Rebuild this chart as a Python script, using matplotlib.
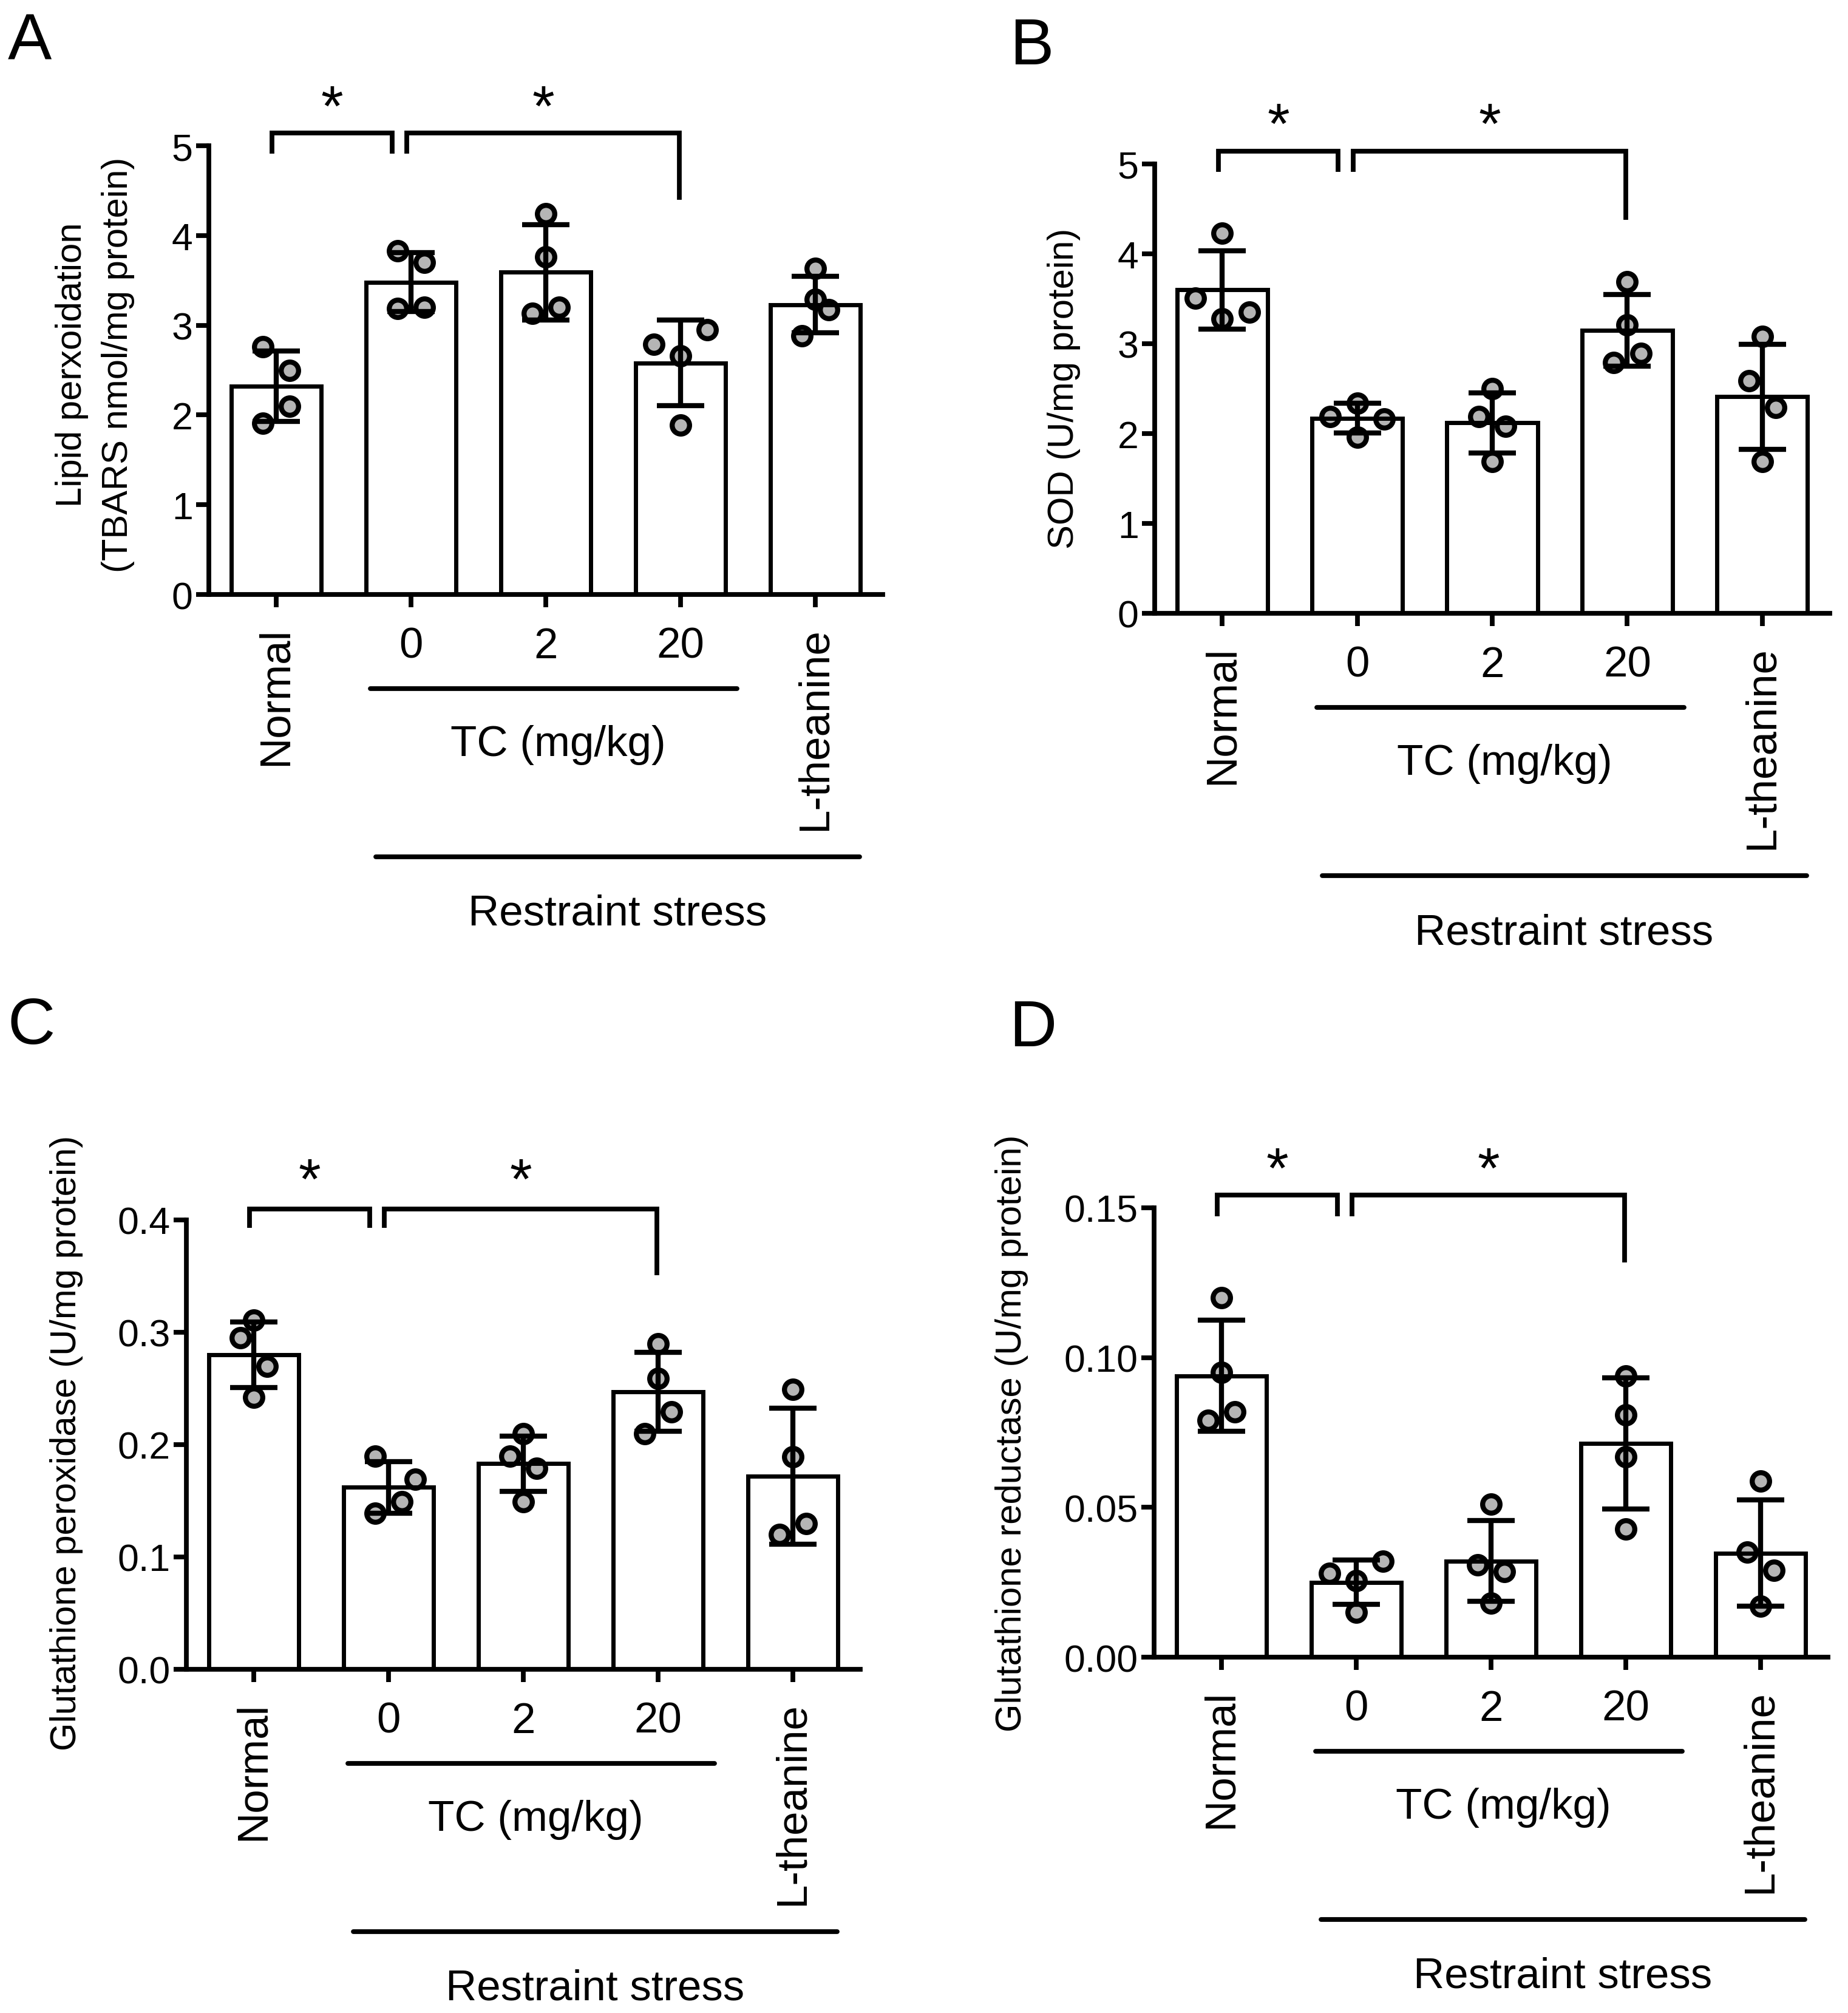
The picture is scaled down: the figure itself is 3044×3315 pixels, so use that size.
import matplotlib
matplotlib.use("Agg")
import matplotlib.pyplot as plt
from matplotlib.transforms import offset_copy

plt.rcParams['font.family'] = ['Liberation Sans', 'DejaVu Sans']

# ---------------- data ----------------
categories = ["Normal", "0", "2", "20", "L-theanine"]

A_means = [2.32, 3.48, 3.59, 2.58, 3.23]
A_sd = [0.39, 0.33, 0.53, 0.475, 0.315]
A_points = [[2.76, 2.50, 2.10, 1.91], [3.83, 3.70, 3.19, 3.20],
            [4.24, 3.76, 3.13, 3.20], [2.79, 2.95, 2.66, 1.89],
            [3.63, 3.29, 3.17, 2.88]]
A_jitter = [[-0.1, 0.1, 0.1, -0.1], [-0.1, 0.1, -0.1, 0.1],
            [0, 0, -0.1, 0.1], [-0.2, 0.2, 0, 0], [0, 0, 0.1, -0.1]]

B_means = [3.60, 2.17, 2.12, 3.15, 2.41]
B_sd = [0.435, 0.165, 0.335, 0.40, 0.585]
B_points = [[4.23, 3.51, 3.28, 3.35], [2.19, 2.34, 2.16, 1.96],
            [2.50, 2.19, 2.08, 1.69], [3.69, 3.21, 2.79, 2.89],
            [3.08, 2.59, 2.29, 1.69]]
B_jitter = [[0, -0.2, 0, 0.2], [-0.2, 0, 0.2, 0],
            [0, -0.1, 0.1, 0], [0, 0, -0.1, 0.1], [0, -0.1, 0.1, 0]]

C_means = [0.280, 0.162, 0.183, 0.247, 0.172]
C_sd = [0.029, 0.023, 0.0245, 0.035, 0.0605]
C_points = [[0.311, 0.295, 0.270, 0.242], [0.190, 0.169, 0.149, 0.139],
            [0.210, 0.190, 0.179, 0.149], [0.290, 0.259, 0.229, 0.210],
            [0.249, 0.189, 0.130, 0.120]]
C_jitter = [[0, -0.1, 0.1, 0], [-0.1, 0.2, 0.1, -0.1],
            [0, -0.1, 0.1, 0], [0, 0, 0.1, -0.1], [0, 0, 0.1, -0.1]]

D_means = [0.0939, 0.0250, 0.0321, 0.0713, 0.0347]
D_sd = [0.0185, 0.0074, 0.01355, 0.02185, 0.01775]
D_points = [[0.120, 0.0951, 0.0790, 0.0818], [0.0279, 0.0321, 0.0256, 0.0149],
            [0.0511, 0.0309, 0.0285, 0.0181], [0.0939, 0.0808, 0.0669, 0.0428],
            [0.0588, 0.0351, 0.0289, 0.0170]]
D_jitter = [[0, 0, -0.1, 0.1], [-0.2, 0.2, 0, 0],
            [0, -0.1, 0.1, 0], [0, 0, 0, 0], [0, -0.1, 0.1, 0]]

A_yticks = [0, 1, 2, 3, 4, 5]
A_yticklabels = ["0", "1", "2", "3", "4", "5"]
B_yticks = [0, 1, 2, 3, 4, 5]
B_yticklabels = ["0", "1", "2", "3", "4", "5"]
C_yticks = [0.0, 0.1, 0.2, 0.3, 0.4]
C_yticklabels = ["0.0", "0.1", "0.2", "0.3", "0.4"]
D_yticks = [0.00, 0.05, 0.10, 0.15]
D_yticklabels = ["0.00", "0.05", "0.10", "0.15"]

A_ylabel = ["Lipid perxoidation", "(TBARS nmol/mg protein)"]
B_ylabel = ["SOD (U/mg protein)"]
C_ylabel = ["Glutathione peroxidase (U/mg protein)"]
D_ylabel = ["Glutathione reductase (U/mg protein)"]

# ---------------- layout ----------------
W, H = 3044, 3316
DPI = 200
fig = plt.figure(figsize=(W / DPI, H / DPI), dpi=DPI)
fig.patch.set_facecolor('white')

def px2pt(p):
    return p * 72.0 / DPI

LW_SPINE = 2.8
LW_BAR = 2.5
LW_ERR = 3.0
LW_BRK = 2.8
FS_YTICK = 22.5
FS_XTICK = 25.5
FS_LABEL = 21.5
FS_STAR = 34
FS_LETTER = 39

panels = [
    # letter, box(left,right,top,bottom px), means, sd, points, jitter, ylim top, yticks, labels, ylabel,
    # ylabel baselines x px, ylabel center y px, bracket (top, legs, right-leg), star y, letter pos
    dict(letter="A", box=(344, 1454, 241, 980), means=A_means, sd=A_sd, pts=A_points, jit=A_jitter,
         ytop=5, yt=A_yticks, ytl=A_yticklabels, ylab=A_ylabel, ylab_x=[134, 210], ylab_y=601,
         brk=(5.14, 4.91, 4.40), star=5.60, let=(13, 99)),
    dict(letter="B", box=(1902, 3014, 271, 1011), means=B_means, sd=B_sd, pts=B_points, jit=B_jitter,
         ytop=5, yt=B_yticks, ytl=B_yticklabels, ylab=B_ylabel, ylab_x=[1768], ylab_y=640,
         brk=(5.14, 4.91, 4.38), star=5.61, let=(1663, 106)),
    dict(letter="C", box=(307, 1417, 2010, 2750), means=C_means, sd=C_sd, pts=C_points, jit=C_jitter,
         ytop=0.4, yt=C_yticks, ytl=C_yticklabels, ylab=C_ylabel, ylab_x=[125], ylab_y=2376,
         brk=(0.410, 0.393, 0.351), star=0.449, let=(12, 1719)),
    dict(letter="D", box=(1901, 3011, 1990, 2730), means=D_means, sd=D_sd, pts=D_points, jit=D_jitter,
         ytop=0.15, yt=D_yticks, ytl=D_yticklabels, ylab=D_ylabel, ylab_x=[1682], ylab_y=2360,
         brk=(0.1542, 0.1472, 0.1317), star=0.168, let=(1662, 1723)),
]

BAR_W = 0.67
BRK1 = (-0.03, 0.86)
BRK2 = (0.97, 2.99)
TC_LINE = (0.70, 3.42)
RS_LINE = (0.74, 4.33)
TC_TEXT_X = 2.09
RS_TEXT_X = 2.53

for p in panels:
    l, r, t, b = p["box"]
    ax = fig.add_axes([l / W, 1 - b / H, (r - l) / W, (b - t) / H])
    x = list(range(len(categories)))
    # bar fill
    ax.bar(x, p["means"], width=BAR_W, color='white', edgecolor='none', zorder=1)
    # points
    for i, (vals, jit) in enumerate(zip(p["pts"], p["jit"])):
        ax.plot([i + j for j in jit], vals, 'o', ms=10.3, mfc='#b5b5b5', mec='black',
                mew=3.0, zorder=2, clip_on=False)
    # bar edges
    ax.bar(x, p["means"], width=BAR_W, color='none', edgecolor='black', linewidth=LW_BAR, zorder=3)
    # error bars
    ax.errorbar(x, p["means"], yerr=p["sd"], fmt='none', ecolor='black', elinewidth=LW_ERR,
                capsize=13.9, capthick=LW_ERR, zorder=4, clip_on=False)

    ax.set_xlim(-0.5, 4.5)
    ax.set_ylim(0, p["ytop"])
    for s in ("top", "right"):
        ax.spines[s].set_visible(False)
    for s in ("left", "bottom"):
        ax.spines[s].set_linewidth(LW_SPINE)
    ax.set_yticks(p["yt"])
    ax.set_yticklabels(p["ytl"])
    ax.set_xticks(x)
    ax.set_xticklabels(categories)
    ax.tick_params(axis='y', direction='out', length=7.5, width=LW_SPINE, labelsize=FS_YTICK, pad=2)
    ax.tick_params(axis='x', direction='out', length=7.5, width=LW_SPINE, labelsize=FS_XTICK, pad=11.5)
    xl = ax.get_xticklabels()
    xl[0].set_rotation(90)
    xl[4].set_rotation(90)

    # significance brackets
    top, leg, rleg = p["brk"]
    ax.plot([BRK1[0], BRK1[0], BRK1[1], BRK1[1]], [leg, top, top, leg], color='black',
            lw=LW_BRK, clip_on=False, solid_joinstyle='miter', solid_capstyle='butt')
    ax.plot([BRK2[0], BRK2[0], BRK2[1], BRK2[1]], [leg, top, top, rleg], color='black',
            lw=LW_BRK, clip_on=False, solid_joinstyle='miter', solid_capstyle='butt')
    star_tr = offset_copy(ax.transData, fig=fig, y=-0.58 * FS_STAR, units='points')
    for sx in ((BRK1[0] + BRK1[1]) / 2, (BRK2[0] + BRK2[1]) / 2):
        ax.text(sx, p["star"], "*", fontsize=FS_STAR, ha='center', va='baseline',
                transform=star_tr, clip_on=False)

    # group lines and labels below axis
    xa = ax.get_xaxis_transform()
    tr_tc_line = offset_copy(xa, fig=fig, y=-px2pt(155), units='points')
    tr_rs_line = offset_copy(xa, fig=fig, y=-px2pt(432), units='points')
    tr_tc_text = offset_copy(xa, fig=fig, y=-px2pt(265), units='points')
    tr_rs_text = offset_copy(xa, fig=fig, y=-px2pt(544), units='points')
    ax.plot(TC_LINE, [0, 0], color='black', lw=LW_BRK, transform=tr_tc_line, clip_on=False,
            solid_capstyle='round')
    ax.plot(RS_LINE, [0, 0], color='black', lw=LW_BRK, transform=tr_rs_line, clip_on=False,
            solid_capstyle='round')
    ax.text(TC_TEXT_X, 0, "TC (mg/kg)", fontsize=FS_XTICK, ha='center', va='baseline',
            transform=tr_tc_text, clip_on=False)
    ax.text(RS_TEXT_X, 0, "Restraint stress", fontsize=FS_XTICK, ha='center', va='baseline',
            transform=tr_rs_text, clip_on=False)

    # y label (rotated), baseline-anchored
    for line, bx in zip(p["ylab"], p["ylab_x"]):
        fig.text(bx / W, 1 - p["ylab_y"] / H, line, rotation=90, rotation_mode='anchor',
                 ha='center', va='baseline', fontsize=FS_LABEL)

    # panel letter
    lx, ly = p["let"]
    fig.text(lx / W, 1 - ly / H, p["letter"], fontsize=FS_LETTER, ha='left', va='baseline')

fig.savefig("out.png", dpi=DPI, facecolor='white')
